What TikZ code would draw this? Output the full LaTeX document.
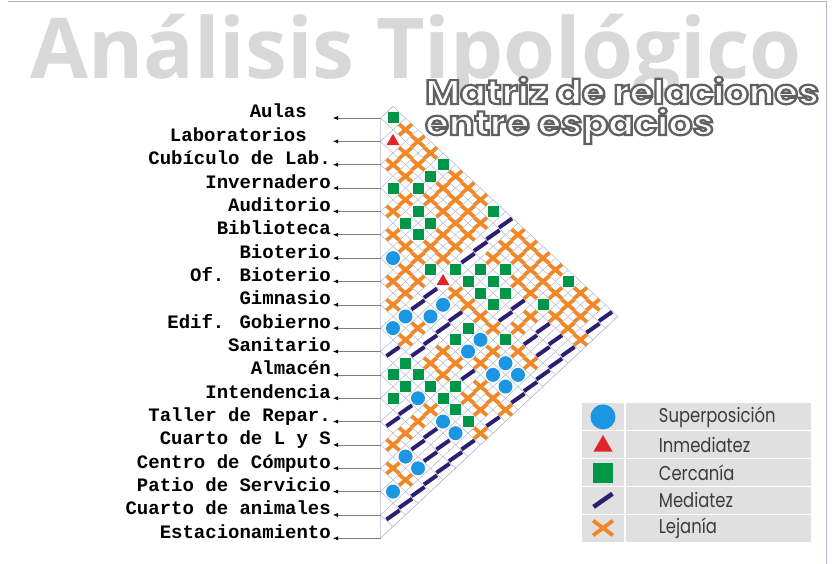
\documentclass[tikz,border=0pt]{standalone}
\usepackage{fontspec}
\usepackage{tikz}
\usetikzlibrary{arrows.meta}
\usetikzlibrary{positioning}
\usetikzlibrary{shapes.geometric}
\usetikzlibrary{shapes.misc}
\setmainfont{Liberation Serif}
\newfontfamily\rowfont{Liberation Mono}
\newfontfamily\titlefont{Open Sans}
\newfontfamily\keyfont{Poppins}
\definecolor{mgrid}{RGB}{178,184,204}
\definecolor{mblue}{RGB}{28,150,226}
\definecolor{mred}{RGB}{226,35,40}
\definecolor{mgreen}{RGB}{0,150,72}
\definecolor{mnavy}{RGB}{45,30,115}
\definecolor{morange}{RGB}{240,135,40}
\definecolor{mtitle}{RGB}{216,216,216}
\definecolor{mlegend}{RGB}{224,224,224}
\definecolor{mframe}{RGB}{180,180,210}
\definecolor{mtext}{RGB}{60,60,60}
% white letters with a dark rim
\newcommand{\rimtext}[1]{\special{pdf:literal direct 2 Tr 2.2 w 0.38 0.38 0.38 RG}#1\special{pdf:literal direct 0 Tr}}

\begin{document}
\begin{tikzpicture}[x=1pt, y=-1pt,
    rowlabel/.style={font=\rowfont\bfseries\fontsize{19}{19}\selectfont, inner ysep=0pt, anchor=base east},
    rowlink/.style={gray, line width=0.6pt, -{Latex[black, length=5pt, width=4pt]}},
    gridline/.style={mgrid, line width=0.5pt},
    subtitle/.style={font=\keyfont\bfseries\fontsize{34}{34}\selectfont, text=white, xscale=1.12, anchor=base west, inner sep=0pt},
    rel/.style={rel#1},
    relB/.style={circle, fill=mblue, minimum size=14pt, inner sep=0pt},
    relT/.style={regular polygon, regular polygon sides=3, fill=mred, minimum size=15pt, inner sep=0pt},
    relG/.style={rectangle, fill=mgreen, minimum size=11pt, inner sep=0pt},
    relD/.style={rectangle, fill=mnavy, minimum width=16pt, minimum height=4pt, inner sep=0pt, rotate=35},
    relX/.style={cross out, draw=morange, line width=3.8pt, minimum width=9pt, minimum height=7pt, inner sep=0pt},
    keytext/.style={font=\keyfont\fontsize{20}{20}\selectfont, text=mtext, xscale=0.82, anchor=west}]

  \useasboundingbox (0,0) rectangle (832,564);
  \draw [mframe, line width=1pt] (8,1.5) -- (826,1.5) -- (826,564);

  % titles
  \node [font=\titlefont\bfseries\fontsize{84}{84}\selectfont, text=mtitle, anchor=base west, inner sep=0pt] (title) at (30,79) {Análisis Tipológico};
  \node [subtitle] (sub1) at (425,104) {\rimtext{Matriz de relaciones}};
  \node [subtitle] (sub2) at (425,135) {\rimtext{entre espacios}};

  \def\ox{393}
  \def\sx{12.5}
  \def\ya{118}
  \def\hy{23.35}

  % left edge of the matrix
  \foreach \m in {0,...,18}
    \coordinate (v\m) at ({\ox-\sx}, {\ya+\m*\hy});

  \begin{scope}
    \clip (v0) -- (\ox, {\ya-\hy/2}) -- ({\ox+18*\sx}, {\ya+8.5*\hy}) -- (v18) -- cycle;
    \foreach \m in {0,...,18} {
      \draw [gridline] (v\m) -- ++({40*\sx}, {20*\hy});
      \draw [gridline] (v\m) -- ++({40*\sx}, {-20*\hy});
    }
  \end{scope}
  \draw [gridline] (v0) -- (\ox, {\ya-\hy/2}) -- ({\ox+18*\sx}, {\ya+8.5*\hy}) -- (v18) -- cycle;

  % spaces
  \foreach \name/\gap [count=\i from 0] in {Aulas/26, Laboratorios/26, {Cubículo de Lab.}/2,
      Invernadero/2, Auditorio/2, Biblioteca/2, Bioterio/2, {Of. Bioterio}/2, Gimnasio/2,
      {Edif. Gobierno}/2, Sanitario/2, Almacén/2, Intendencia/2, {Taller de Repar.}/2,
      {Cuarto de L y S}/2, {Centro de Cómputo}/2, {Patio de Servicio}/2,
      {Cuarto de animales}/2, Estacionamiento/2} {
    \node [rowlabel, inner xsep=\gap pt] (l\i) at (333, {\ya+\i*\hy}) {\name};
    \draw [rowlink] (v\i) -- (l\i.base east);
  }

  % relations
  \foreach \r/\cells in {
      0/{G,X,X,X,G,X,X,X,G,D,X,X,X,X,G,X,X,D},
      1/{T,X,X,G,X,X,X,X,D,X,X,X,X,X,X,X,D},
      2/{X,X,G,X,X,X,X,D,X,G,X,X,G,X,X,X},
      3/{G,X,G,G,X,X,D,G,G,G,D,X,D,D,D},
      4/{X,G,G,X,X,G,G,G,G,D,X,D,D,D},
      5/{X,X,X,G,T,X,X,X,X,G,X,X,D},
      6/{B,X,X,D,B,D,G,B,X,B,B,D},
      7/{X,X,D,B,D,G,B,X,B,B,D},
      8/{X,B,X,D,X,X,D,X,X,X},
      9/{B,X,D,X,X,G,X,X,D},
      10/{D,G,G,G,G,G,G,X},
      11/{G,G,B,X,B,B,D},
      12/{G,D,X,D,D,D},
      13/{D,X,D,D,D},
      14/{X,B,B,D},
      15/{X,X,D},
      16/{B,D},
      17/{D}} {
    \foreach \s [count=\k] in \cells
      \node [rel=\s] (c\r-\k) at ({\ox+(\k-1)*\sx}, {\ya+(\r+(\k-1)/2)*\hy}) {};
  }

  % legend
  \fill [mlegend] (582,403) rectangle (811,542);
  \foreach \i in {1,...,4}
    \draw [white, line width=1.2pt] (582, {403+\i*27.8}) -- (811, {403+\i*27.8});
  \draw [white, line width=1.2pt] (625,403) -- (625,542);

  \node [relB, minimum size=25pt] (kB) at (603,416.9) {};
  \node [relT, minimum size=22pt] (kT) at (603,446) {};
  \node [relG, minimum size=20pt] (kG) at (603,472.5) {};
  \node [relD, minimum width=23pt, minimum height=4.5pt] (kD) at (603,500.3) {};
  \node [relX, minimum width=16pt, minimum height=11pt] (kX) at (603,528) {};

  \node [keytext] (tB) at (656,416.9) {Superposición};
  \node [keytext] (tT) at (656,444.7) {Inmediatez};
  \node [keytext] (tG) at (656,472.5) {Cercanía};
  \node [keytext] (tD) at (656,500.3) {Mediatez};
  \node [keytext] (tX) at (656,528.1) {Lejanía};
\end{tikzpicture}
\end{document}
